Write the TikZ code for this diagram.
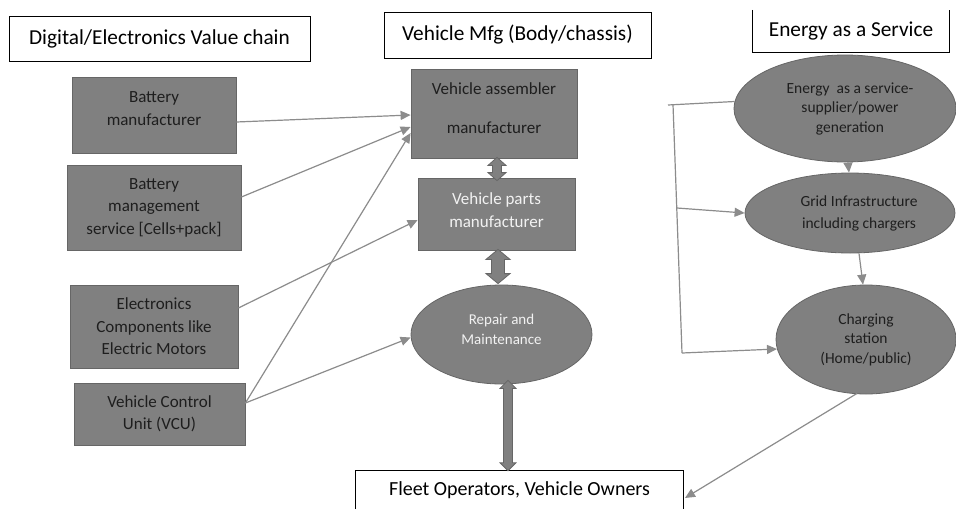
\documentclass[tikz,border=0pt]{standalone}
\usepackage{fontspec}
\setmainfont{Carlito}
\usetikzlibrary{arrows.meta,calc,shapes.geometric}
\definecolor{boxgray}{HTML}{808080}
\definecolor{edgegray}{HTML}{666666}
\definecolor{linegray}{HTML}{8C8C8C}
\definecolor{txtdark}{HTML}{1E1E1E}
\definecolor{txtlight}{HTML}{F2F2F2}
\newcommand\blockarrow[5]{%
  \draw[blockarr] let \p1=(#1), \p2=(#2) in
   (\x1,\y1) -- (\x1+#4pt,\y1-#5pt) -- (\x1+#3pt,\y1-#5pt) -- (\x1+#3pt,\y2+#5pt)
   -- (\x1+#4pt,\y2+#5pt) -- (\x1,\y2) -- (\x1-#4pt,\y2+#5pt) -- (\x1-#3pt,\y2+#5pt)
   -- (\x1-#3pt,\y1-#5pt) -- (\x1-#4pt,\y1-#5pt) -- cycle;}
\begin{document}
\begin{tikzpicture}[x=1pt,y=-1pt,
  title/.style={inner sep=0pt, text=black, font=\fontsize{21.3}{25}\selectfont},
  frame/.style={draw=black, line width=0.9pt},
  gbox/.style={draw=edgegray, fill=boxgray, line width=0.8pt, inner sep=0pt, align=center,
    text=txtdark, font=\fontsize{17}{22.5}\selectfont},
  gell/.style={ellipse, draw=edgegray, fill=boxgray, line width=0.8pt, inner sep=0pt, align=center,
    text=txtdark, font=\fontsize{15.5}{19.5}\selectfont},
  conn/.style={draw=linegray, line width=1.2pt, -{Triangle[length=10pt,width=9pt]}},
  plain/.style={draw=linegray, line width=1.2pt},
  blockarr/.style={fill=boxgray, draw=edgegray, line width=0.8pt}]
\useasboundingbox (0,0) rectangle (956,509);
\fill[white] (0,0) rectangle (956,509);

% titles
\node[title, draw=black, line width=0.9pt, minimum width=301pt, minimum height=45pt] (t1) at (159.5,38.5) {Digital/Electronics Value chain};
\node[title, draw=black, line width=0.9pt, minimum width=267pt, minimum height=46pt] (t2) at (517.5,35) {Vehicle Mfg (Body/chassis)};
\node[title, minimum width=196pt, minimum height=42pt] (t3) at (851,31) {Energy as a Service};
\draw[frame] (t3.north west) -- (t3.south west) -- (t3.south east) -- (t3.north east);
\node[title, font=\fontsize{20}{24}\selectfont, minimum width=327pt, minimum height=38pt] (fleet) at (519.5,490) {Fleet Operators, Vehicle Owners};
\draw[frame] (fleet.south west) -- (fleet.north west) -- (fleet.north east) -- (fleet.south east);

% left boxes
\node[gbox, minimum width=164pt, minimum height=76pt] (bm) at (154,115) {Battery\\manufacturer\\[-10pt]\mbox{}};
\node[gbox, minimum width=174pt, minimum height=85pt] (bms) at (154,207.5) {Battery\\management\\service [Cells+pack]};
\node[gbox, minimum width=168pt, minimum height=83pt] (ec) at (154,326.5) {Electronics\\Components like\\Electric Motors};
\node[gbox, minimum width=171pt, minimum height=62pt] (vcu) at (159.5,414) {Vehicle Control\\Unit (VCU)};

% centre
\node[gbox, minimum width=166pt, minimum height=89pt, font=\fontsize{17}{39}\selectfont] (va) at (494,113.5) {Vehicle assembler\\manufacturer\\[-29pt]\mbox{}};
\node[gbox, minimum width=157pt, minimum height=72pt, text=txtlight] (vp) at (496.5,214) {Vehicle parts\\manufacturer\\[-14.5pt]\mbox{}};
\node[gell, minimum width=181pt, minimum height=99pt, text=txtlight, font=\fontsize{15}{20}\selectfont] (rm) at (501.5,334.5) {Repair and\\Maintenance\\[-10pt]\mbox{}};

% right ellipses
\node[gell, minimum width=222pt, minimum height=107pt] (es) at (845,108.5) {\hspace*{10pt}Energy\ \ as a service-\\\hspace*{10pt}supplier/power\\\hspace*{10pt}generation};
\node[gell, minimum width=210pt, minimum height=80pt, font=\fontsize{15.5}{22}\selectfont] (gi) at (850,213) {\hspace*{18pt}Grid Infrastructure\\\hspace*{18pt}including chargers};
\node[gell, minimum width=180pt, minimum height=109pt] (cs) at (866,339.5) {Charging\\station\\(Home/public)};

% block arrows
\blockarrow{[xshift=3pt,yshift=1pt]va.south}{[yshift=-3pt]vp.north}{4.5}{9}{8}
\blockarrow{[xshift=1.5pt,yshift=1pt]vp.south}{[yshift=1pt]rm.north}{6.5}{12}{10}
\blockarrow{[xshift=6.5pt,yshift=4pt]rm.south}{fleet.north}{4.5}{8}{8}

% left connectors
\draw[conn] ([yshift=-7pt]bm.east) -- ([yshift=-1.5pt]va.west);
\draw[conn] ([yshift=10.5pt]bms.east) -- ([yshift=-13.5pt]va.west);
\draw[conn] ([yshift=11pt]vcu.east) -- ([yshift=-19.5pt]va.west);
\draw[conn] ([yshift=18.5pt]ec.east) -- ([yshift=-6pt]vp.west);
\draw[conn] ([yshift=11pt]vcu.east) -- ([yshift=-3pt]rm.west);

% right connectors
\coordinate (b0) at (668,105);
\coordinate (b1) at (673,104.5);
\coordinate (b2) at (677,208);
\coordinate (b3) at (682,353);
\coordinate (fe) at (685,498);
\draw[plain] (b0) -- ([yshift=7pt,xshift=1pt]es.west);
\draw[plain] (b1) -- (b3);
\draw[conn] (b2) -- (gi.west);
\draw[conn] (b3) -- ([yshift=-9.5pt,xshift=1.4pt]cs.west);
\draw[conn] ([xshift=3pt]es.south) -- ([xshift=-1pt]gi.north);
\draw[conn] ([xshift=9pt]gi.south) -- ([xshift=-3pt]cs.north);
\draw[conn] ([xshift=-9pt,yshift=1pt]cs.south) -- (fe);
\end{tikzpicture}
\end{document}
